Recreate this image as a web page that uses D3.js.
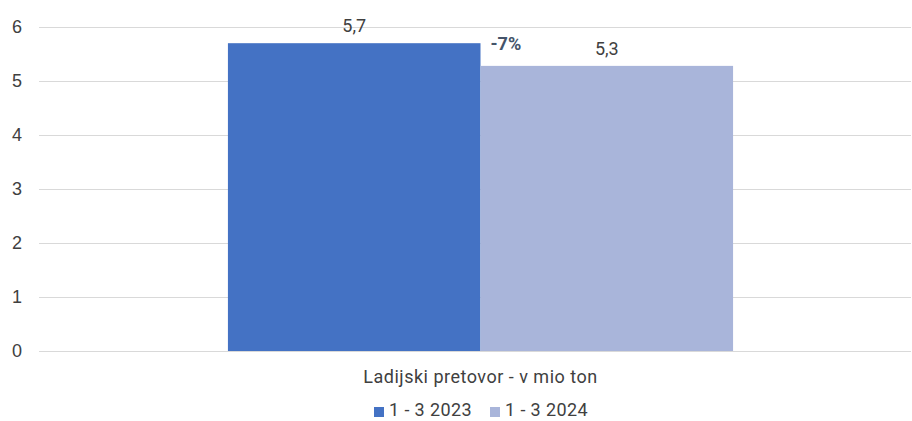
<!DOCTYPE html>
<html><head><meta charset="utf-8">
<script src="https://cdn.jsdelivr.net/npm/d3@7"></script>
<style>body{margin:0;background:#fff}svg{font-family:Roboto,"DejaVu Sans",sans-serif}</style>
</head><body><svg id="c" width="912" height="421"></svg>
<script>
const categories = ["Ladijski pretovor - v mio ton"];
const seriesNames = ["1 - 3 2023", "1 - 3 2024"];
const values2023 = [5.7];
const values2024 = [5.28];
const valueLabels2023 = ["5,7"];
const valueLabels2024 = ["5,3"];
const changeLabels = ["-7%"];
const yTicks = [0, 1, 2, 3, 4, 5, 6];
const colors = ["#4472C4", "#A9B5DA"];

const svg = d3.select("#c");
const y = d3.scaleLinear().domain([0, 6]).range([351, 27]);
const x0 = d3.scaleBand().domain(categories).range([39, 922]).paddingInner(0).paddingOuter(0.374);
const x1 = d3.scaleBand().domain(seriesNames).range([0, x0.bandwidth()]);

const yAxis = d3.axisLeft(y).tickValues(yTicks).tickSize(-(911 - 39)).tickFormat(d3.format("d"));
const ga = svg.append("g").attr("transform", "translate(39,0)").call(yAxis);
ga.select(".domain").remove();
ga.selectAll(".tick line").attr("stroke", "#d9d9d9").attr("stroke-width", 1);
ga.selectAll(".tick text").attr("x", -17).attr("fill", "#404040").style("font-size", "18px");

const data = categories.map((c, i) => ({c, vals: [values2023[i], values2024[i]], labs: [valueLabels2023[i], valueLabels2024[i]], chg: changeLabels[i]}));
const g = svg.append("g");
data.forEach(d => {
  d.vals.forEach((v, j) => {
    const bx = x0(d.c) + x1(seriesNames[j]);
    g.append("rect").attr("x", bx).attr("y", y(v)).attr("width", x1.bandwidth()).attr("height", y(0) - y(v)).attr("fill", colors[j]);
    g.append("text").attr("x", bx + x1.bandwidth() / 2).attr("y", y(v) - 11).attr("text-anchor", "middle")
      .attr("fill", "#404040").style("font-size", "18px").text(d.labs[j]);
  });
  g.append("text").attr("x", x0(d.c) + x1(seriesNames[1]) + 10).attr("y", y(d.vals[0]) + 7)
    .attr("fill", "#44546A").style("font-size", "18px").style("font-weight", "bold").text(d.chg);
  g.append("text").attr("x", x0(d.c) + x0.bandwidth() / 2).attr("y", 383).attr("text-anchor", "middle")
    .attr("fill", "#404040").style("font-size", "18px").style("letter-spacing", "0.5px").text(d.c);
});

const leg = svg.append("g");
const legX = [374, 490];
seriesNames.forEach((s, j) => {
  leg.append("rect").attr("x", legX[j]).attr("y", 407).attr("width", 10).attr("height", 10).attr("fill", colors[j]);
  leg.append("text").attr("x", legX[j] + 15).attr("y", 416).attr("fill", "#404040").style("font-size", "18px").style("letter-spacing", "0.4px").text(s);
});
</script></body></html>
